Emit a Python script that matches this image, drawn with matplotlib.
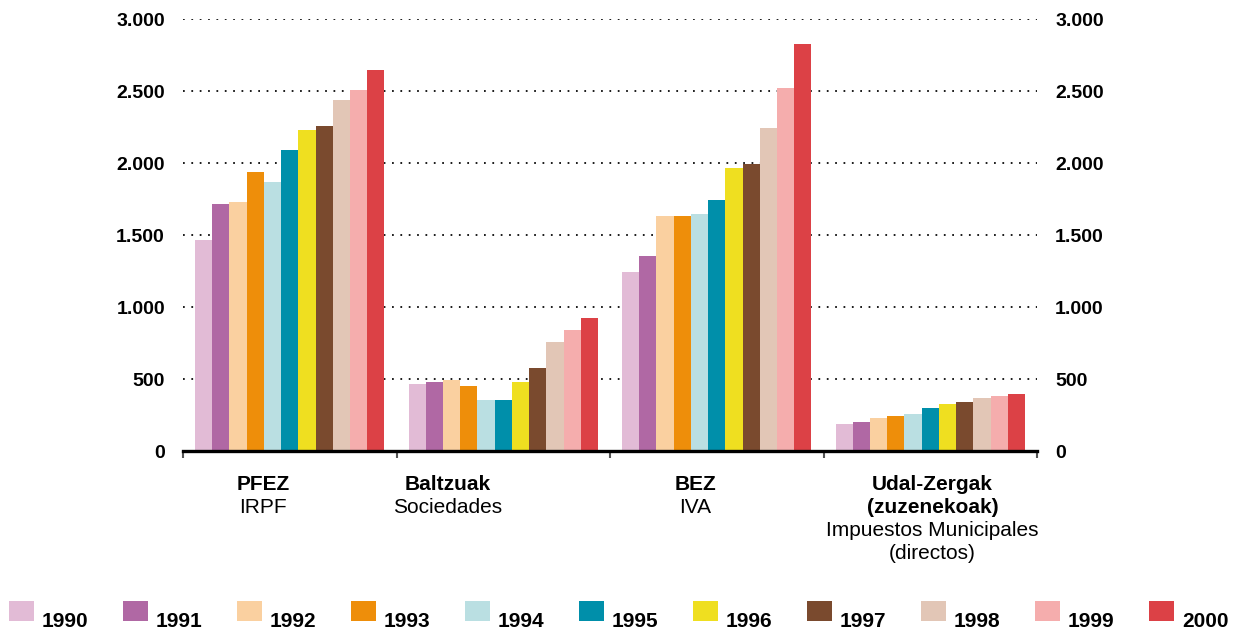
import matplotlib
matplotlib.use("Agg")
import matplotlib.pyplot as plt
import numpy as np
from matplotlib.patches import Rectangle

plt.rcParams['font.family'] = ['Liberation Sans', 'DejaVu Sans']

years = ["1990", "1991", "1992", "1993", "1994", "1995", "1996", "1997", "1998", "1999", "2000"]
cat_bold = ["PFEZ", "Baltzuak", "BEZ", "Udal-Zergak\n(zuzenekoak)"]
cat_sub = ["IRPF", "Sociedades", "IVA", "Impuestos Municipales\n(directos)"]

v_pfez = [1465, 1715, 1729, 1937, 1868, 2090, 2229, 2257, 2437, 2507, 2646]
v_balt = [465, 479, 493, 451, 354, 354, 479, 576, 757, 840, 924]
v_bez = [1243, 1354, 1632, 1632, 1646, 1743, 1965, 1993, 2243, 2521, 2826]
v_udal = [188, 201, 229, 243, 257, 299, 326, 340, 368, 382, 396]
values = np.array([v_pfez, v_balt, v_bez, v_udal])  # categories x years

yticks = [0, 500, 1000, 1500, 2000, 2500, 3000]
ytick_labels = ["0", "500", "1.000", "1.500", "2.000", "2.500", "3.000"]

colors = ["#E2BBD6", "#B068A4", "#FAD0A0", "#EE8E0A", "#BADFE2", "#008FAA",
          "#EFDF20", "#7A4A2E", "#E2C6B6", "#F5ADAD", "#DC4146"]

# horizontal shift of each category label relative to its group centre (in group units)
label_shift = [-0.125, -0.26, -0.10, 0.01]

W, H = 1237, 630
fig = plt.figure(figsize=(W / 100, H / 100), dpi=100)
ax = fig.add_axes([183 / W, (H - 451) / H, (1037 - 183) / W, 432 / H])

n = len(years)
group_w = 0.887
bw = group_w / n
x = np.arange(len(cat_bold))
for i, yr in enumerate(years):
    ax.bar(x + (i - (n - 1) / 2) * bw, values[:, i], width=bw, color=colors[i],
           linewidth=0, zorder=2)

ax.set_xlim(-0.5, len(cat_bold) - 0.5)
ax.set_ylim(0, 3000)

# dotted gridlines
for yv in yticks[1:]:
    ax.axhline(yv, color="#1a1a1a", linewidth=1.4, linestyle=(0, (0.9, 3.4)), zorder=1)

for s in ["top", "left", "right"]:
    ax.spines[s].set_visible(False)
ax.spines["bottom"].set_linewidth(2.4)
ax.spines["bottom"].set_color("black")
ax.spines["bottom"].set_zorder(3)

ax.set_xticks(np.arange(-0.5, len(cat_bold), 1.0))
ax.set_xticklabels([])
ax.tick_params(axis="x", length=5, width=1.5, color="#555555", direction="out")

ax.set_yticks(yticks)
ax.set_yticklabels(ytick_labels, fontsize=14, fontweight="bold")
ax.tick_params(axis="y", length=0, labelright=True, labelleft=True)
for t in ax.yaxis.get_major_ticks():
    t.label1.set_fontsize(14)
    t.label1.set_fontweight("bold")
    t.label2.set_fontsize(14)
    t.label2.set_fontweight("bold")
    t.set_pad(13)

# category labels, one line at a time (baselines)
first_base = 39   # px below axis
step = 23         # px between baselines
for i, (b, s) in enumerate(zip(cat_bold, cat_sub)):
    lines = [(ln, "bold") for ln in b.split("\n")] + [(ln, "normal") for ln in s.split("\n")]
    for k, (txt, wt) in enumerate(lines):
        ax.annotate(txt, xy=(x[i] + label_shift[i], 0), xycoords=("data", "axes fraction"),
                    xytext=(0, -(first_base + k * step) * 0.72), textcoords="offset points",
                    ha="center", va="baseline", fontsize=15, fontweight=wt)

# legend (manual)
for i, yr in enumerate(years):
    x0 = 9 + i * 114.0
    fig.patches.append(Rectangle((x0 / W, (H - 621) / H), 25 / W, 20 / H,
                                 transform=fig.transFigure, color=colors[i],
                                 linewidth=0))
    fig.text((x0 + 33) / W, (H - 627) / H, yr, fontsize=15, fontweight="bold",
             ha="left", va="baseline")

fig.savefig("out.png", dpi=100)
